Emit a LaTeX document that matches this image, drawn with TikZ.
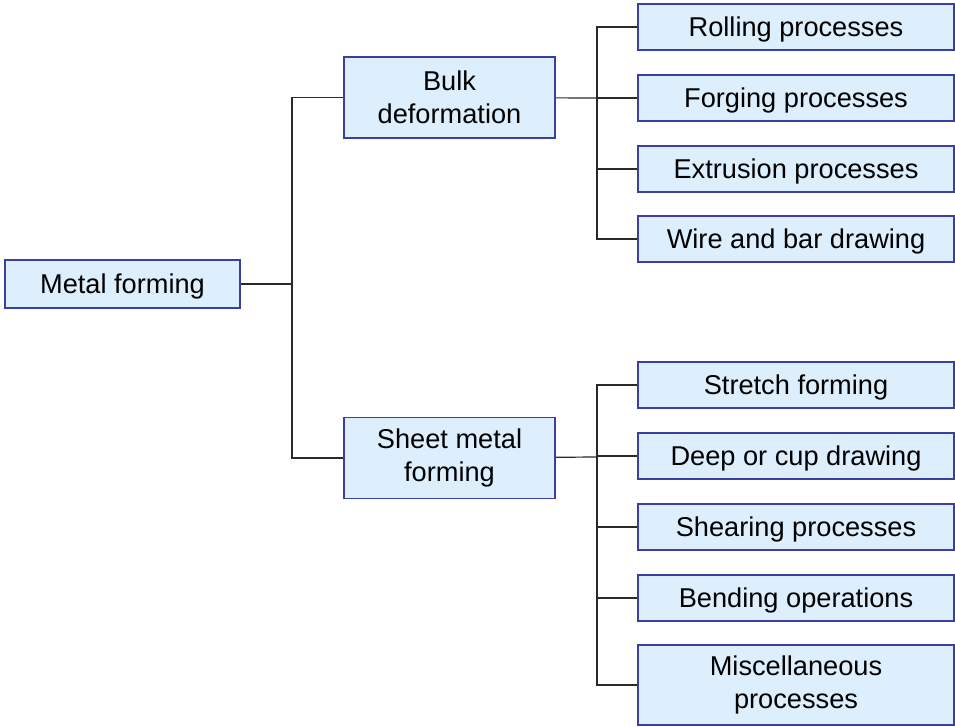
\documentclass[tikz,border=0pt]{standalone}
\usepackage{fontspec}
\setmainfont{Liberation Sans}
\usetikzlibrary{positioning}
\definecolor{boxfill}{HTML}{DDEEFC}
\definecolor{boxline}{HTML}{3B3FA3}
\definecolor{wire}{HTML}{2A2A2A}

\begin{document}
\begin{tikzpicture}[x=1pt,y=-1pt,
      box/.style={rectangle,draw=boxline,fill=boxfill,line width=1.8pt,align=center,inner sep=0pt,
        font=\fontsize{27.2}{32.7}\selectfont},
      one line/.style={text height=20.5pt,text depth=1pt},
      mid box/.style={box,minimum width=211pt,minimum height=81pt},
      leaf box/.style={box,minimum width=316pt,minimum height=46pt},
      link/.style={draw=wire,line width=1.2pt}]
      \useasboundingbox (0,0) rectangle (955,727);
      \node[box,one line,minimum width=235pt,minimum height=48pt] (mf) at (122.5,284) {Metal forming};
      \node[mid box] (bulk) at (449.5,97.5) {Bulk\\deformation};
      \node[mid box] (sheet) at (449.5,458) {Sheet metal\\forming};

      \node[leaf box,one line] (roll) at (796,27) {Rolling processes};
      \node[leaf box,one line] (forge) at (796,98) {Forging processes};
      \node[leaf box,one line] (extr) at (796,169) {Extrusion processes};
      \node[leaf box,one line] (wire) at (796,239) {Wire and bar drawing};

      \node[leaf box,one line] (stretch) at (796,385) {Stretch forming};
      \node[leaf box,one line] (deep) at (796,456) {Deep or cup drawing};
      \node[leaf box,one line] (shear) at (796,527) {Shearing processes};
      \node[leaf box,one line] (bend) at (796,598) {Bending operations};
      \node[leaf box,minimum height=80pt] (misc) at (796,685) {Miscellaneous\\processes};

      \coordinate (j1) at (292,284);
      \coordinate (j2) at (597,98);
      \coordinate (j3) at (597,457);

      \path[link] (mf) -- (j1) |- (bulk);
      \path[link] (j1) |- (sheet);

      \path[link] (bulk) -- (j2);
      \foreach \n in {roll,forge,extr,wire}
        \path[link] (j2) |- (\n);

      \path[link] (sheet) -- (j3);
      \foreach \n in {stretch,deep,shear,bend,misc}
        \path[link] (j3) |- (\n);
    \end{tikzpicture}
\end{document}
